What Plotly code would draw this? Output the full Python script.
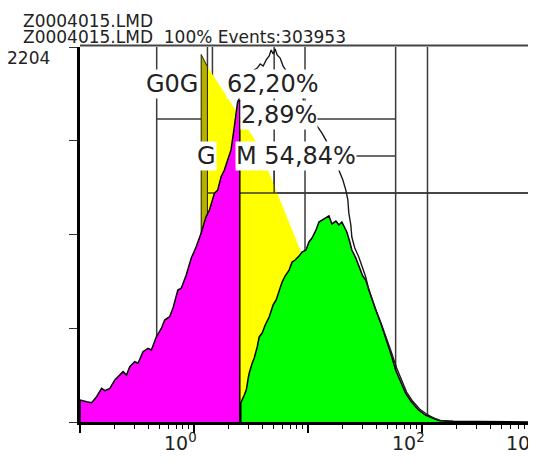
import plotly.graph_objects as go

# ---------------- data ----------------
# G0G1 population (magenta): DNA channel (log scale) and event counts
g0g1_x = [0.100, 0.1144, 0.1265, 0.1399, 0.1547, 0.1653, 0.1828, 0.2021, 0.2160, 0.2388,
          0.2557, 0.2733, 0.3021, 0.3229, 0.3570, 0.3948, 0.4228, 0.4676, 0.5170, 0.5526,
          0.6109, 0.6529, 0.7220, 0.7730, 0.8548, 0.9452, 1.045, 1.156, 1.278, 1.366,
          1.510, 1.614, 1.729, 1.847, 1.973, 2.113, 2.258, 2.413, 2.522]
g0g1_y = [129, 119, 113, 149, 198, 184, 198, 247, 266, 296,
          276, 325, 354, 345, 413, 433, 423, 501, 550, 599,
          619, 668, 776, 786, 864, 962, 1030, 1111, 1207, 1246,
          1344, 1363, 1442, 1481, 1540, 1599, 1734, 1882, 1892]

# G2M population (green)
g2m_x = [2.573, 2.761, 2.874, 2.992, 3.053, 3.243, 3.376, 3.585, 3.733, 3.965,
         4.212, 4.564, 4.947, 5.254, 5.581, 5.929, 6.297, 6.825, 7.249, 7.700,
         8.345, 8.864, 9.605, 10.20, 10.84, 11.75, 12.48, 13.26, 14.08, 15.26,
         16.21, 17.56, 18.66, 19.82, 21.05, 21.91, 23.27, 24.23, 26.26, 27.89,
         30.22, 32.10, 35.50, 39.26, 43.42, 48.02, 53.08, 58.71, 64.92, 71.78,
         80.96, 93.2, 107.3, 121.1, 139.4, 170.4, 311.5, 1000]
g2m_y = [112, 159, 188, 259, 288, 347, 376, 441, 500, 523,
         570, 617, 688, 717, 776, 823, 858, 893, 940, 952,
         975, 999, 1011, 1058, 1081, 1128, 1175, 1187, 1199, 1211,
         1164, 1181, 1158, 1175, 1140, 1117, 1058, 1011, 964, 917,
         858, 834, 740, 658, 582, 500, 406, 306, 235, 170,
         118, 71, 41, 24, 9, 5, 3, 3]

# S phase model (yellow) and its shaded left edge
s_phase_x = [1.156, 1.156, 3.515, 4.385, 8.345, 34.8]
s_phase_y = [0, 2145, 1646, 1493, 1028, 0]
s_edge_x = [1.156, 1.156, 1.312, 1.312]
s_edge_y = [0, 2160, 2088, 0]

# total histogram outline (upper part, beyond the G0G1 cut)
total_x = [2.413, 2.652, 2.933, 3.178, 3.376, 3.585, 3.808, 4.046, 4.298, 4.564,
           4.753, 4.947, 5.150, 5.362, 5.694, 6.049, 6.556, 7.249, 8.014, 8.864,
           9.228, 9.605, 10.62, 11.98, 13.26, 14.36, 15.56, 17.21, 18.66, 20.22,
           21.47, 22.36, 22.81, 23.75, 24.23, 25.73, 27.89, 30.22, 32.10, 34.11,
           36.96, 40.05, 44.30, 48.98, 54.16, 59.90, 66.22, 73.20, 82.61, 95.1,
           109.5, 126.0, 145.1, 188.4]
total_y = [1882, 1939, 1998, 2045, 2069, 2080, 2104, 2092, 2128, 2151,
           2186, 2163, 2192, 2157, 2139, 2092, 2057, 2010, 1963, 1928,
           1875, 1851, 1793, 1740, 1698, 1657, 1599, 1540, 1481, 1422,
           1363, 1305, 1228, 1158, 1087, 1023, 970, 905, 852, 776,
           705, 646, 570, 494, 406, 317, 247, 176, 123, 76,
           47, 24, 9, 5]

# region markers
gate_x = [0.4706, 1.312, 1.451, 5.048, 9.414, 58.71, 111.7]
gate_h_y = [1781, 1563, 1346]
gate_h_x0 = [0.4706, 1.451, 1.312]
gate_h_x1 = [58.71, 58.71, 1000]

y_max = 2204
y_ticks = [0, 551, 1102, 1653, 2204]
x_major = [0.1, 1, 10, 100, 1000]
x_minor = [m * d for d in (0.1, 1, 10, 100) for m in range(2, 10)]

# ---------------- layout geometry ----------------
# the page body has an 8 px margin, so the figure is sized/offset to compensate
PAGE_W, PAGE_H, OFF = 536, 461, 8
W, H = PAGE_W - OFF, PAGE_H - OFF
ML, MR, MT, MB = 80 - OFF, 0, 47 - OFF, 39
PW, PH = W - ML - MR, H - MT - MB
PLOT_L, PLOT_B = 80, 422  # page pixels of the plot's left edge and baseline


def pxx(v):
    return (v - PLOT_L) / PW


def pyy(v):
    return (PLOT_B - v) / PH


FONT = "DejaVu Sans"
TXT = "#222222"
GATE = "#3a3a3a"

fig = go.Figure()

# region marker lines (under the fills)
vx, vy = [], []
for g in gate_x:
    vx += [g, g, None]
    vy += [0, y_max, None]
for yv, a, b in zip(gate_h_y, gate_h_x0, gate_h_x1):
    vx += [a, b, None]
    vy += [yv, yv, None]
fig.add_trace(go.Scatter(x=vx, y=vy, mode="lines",
                         line=dict(color=GATE, width=1.5), hoverinfo="skip"))

# S phase
fig.add_trace(go.Scatter(x=s_phase_x, y=s_phase_y, fill="toself", mode="lines",
                         fillcolor="#ffff00", line=dict(width=0), hoverinfo="skip"))
fig.add_trace(go.Scatter(x=s_edge_x, y=s_edge_y, fill="toself", mode="lines",
                         fillcolor="#b8b000", line=dict(color="#202000", width=1),
                         hoverinfo="skip"))

# marker segments that sit above the lower yellow area
sx = [gate_x[3], gate_x[3], None, gate_h_x0[2], g0g1_x[30], None, g0g1_x[-1], gate_h_x1[2]]
sy = [s_phase_y[3], gate_h_y[2], None, gate_h_y[2], gate_h_y[2], None, gate_h_y[2], gate_h_y[2]]
fig.add_trace(go.Scatter(x=sx, y=sy, mode="lines",
                         line=dict(color=GATE, width=1.5), hoverinfo="skip"))

# G0G1
fig.add_trace(go.Scatter(x=[g0g1_x[0]] + g0g1_x + [g0g1_x[-1]],
                         y=[0] + g0g1_y + [0], fill="toself", mode="lines",
                         fillcolor="#ff00ff", line=dict(color="black", width=1.5),
                         hoverinfo="skip"))
# G2M
fig.add_trace(go.Scatter(x=[g2m_x[0]] + g2m_x + [g2m_x[-1]],
                         y=[0] + g2m_y + [0], fill="toself", mode="lines",
                         fillcolor="#00ff00", line=dict(color="black", width=1.5),
                         hoverinfo="skip"))
# total histogram outline
fig.add_trace(go.Scatter(x=total_x, y=total_y, mode="lines",
                         line=dict(color="#1a1a1a", width=1.4), hoverinfo="skip"))

ann = []


def text(x, y, s, size, xanchor="left", bg=None, xref="paper", xshift=0, height=None):
    d = dict(x=x, y=y, xref=xref, yref="paper", text=s, showarrow=False,
             xanchor=xanchor, yanchor="middle", xshift=xshift,
             font=dict(family=FONT, size=size, color=TXT))
    if bg:
        d.update(bgcolor=bg, borderpad=0)
    if height:
        d.update(height=height)
    ann.append(d)


text(pxx(21), pyy(21), "Z0004015.LMD", 17, height=16)
text(pxx(21), pyy(37), "Z0004015.LMD&nbsp; 100% Events:303953", 17, height=16)
text(pxx(52), pyy(58.5), "2204", 17, xanchor="right")

for v, lab in [(0, "10<sup>0</sup>"), (2, "10<sup>2</sup>"), (3, "10<sup>3</sup>")]:
    text(v, pyy(442), lab, 19, xanchor="center", xref="x", xshift=-14)

text(pxx(145), pyy(83.5), "G0G", 24, bg="white")
text(pxx(226), pyy(83.5), "62,20%", 24, bg="white")
text(pxx(240), pyy(115.5), "2,89%", 24, bg="white")
text(pxx(196), pyy(156), "G", 24, bg="white")
text(pxx(235), pyy(156), "M 54,84%", 24, bg="white")

fig.update_layout(
    width=W, height=H, autosize=False,
    margin=dict(l=ML, r=MR, t=MT, b=MB, pad=0),
    paper_bgcolor="white", plot_bgcolor="white",
    showlegend=False,
    annotations=ann,
    shapes=[dict(type="line", xref="paper", yref="paper", x0=0, x1=1,
                 y0=pyy(45.5), y1=pyy(45.5), line=dict(color="#444444", width=2),
                 layer="above")],
    xaxis=dict(type="log", range=[-1, 3], showgrid=False, zeroline=False,
               showline=True, linecolor="black", linewidth=3,
               ticks="outside", ticklen=8, tickwidth=1.5, tickcolor="black",
               tickvals=x_major, showticklabels=False,
               minor=dict(ticks="outside", ticklen=4, tickwidth=1, tickcolor="black",
                          tickvals=x_minor, showgrid=False)),
    yaxis=dict(range=[0, y_max], showgrid=False, zeroline=False,
               showline=True, linecolor="black", linewidth=3,
               ticks="outside", ticklen=8, tickwidth=1, tickcolor="#333333",
               tickvals=y_ticks, showticklabels=False),
)

fig.write_html("out.html", config={"displayModeBar": False})
